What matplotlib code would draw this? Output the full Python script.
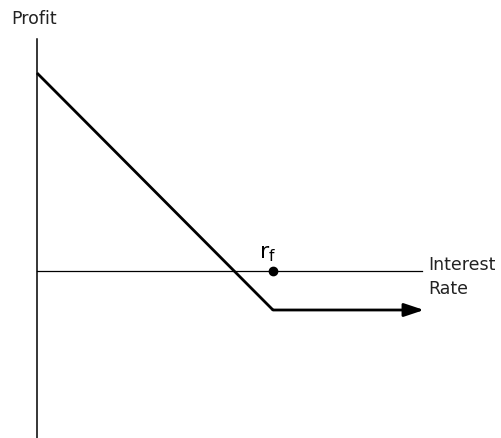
import matplotlib
matplotlib.use('Agg')
from matplotlib import pyplot as plt

# payoff diagram, units in px from the axis origin
profit_x = [0, 236, 387]
profit_y = [198, -39, -39]
rf = 236
xaxis_end = 385
yaxis_top = 232
yaxis_bottom = -167

plt.rcParams['font.family'] = ['DejaVu Sans']

fig = plt.figure(figsize=(5.02, 4.38), dpi=100)
ax = fig.add_axes([0, 0, 1, 1])
ax.set_xlim(-37, 465)
ax.set_ylim(-167, 271)
ax.axis('off')

# axes
ax.plot([0, xaxis_end], [0, 0], color='black', lw=0.9)
ax.plot([0, 0], [yaxis_bottom, yaxis_top], color='black', lw=1.1)

# payoff line with arrow head at the end
ax.plot(profit_x[:2], profit_y[:2], color='black', lw=2, solid_capstyle='butt')
ax.annotate('', xy=(profit_x[2], profit_y[2]), xytext=(profit_x[1], profit_y[1]),
            arrowprops=dict(arrowstyle='-|>,head_length=1.2,head_width=0.4',
                            lw=2, color='black', shrinkA=0, shrinkB=0,
                            mutation_scale=10))

ax.plot([rf], [0], 'o', color='black', ms=6)
ax.text(rf - 5, 13, '$\\mathregular{r_f}$', fontsize=16, ha='center', va='baseline')

ax.text(391, 1, 'Interest', fontsize=12.5, va='baseline', ha='left', color='#222222')
ax.text(391, -23, 'Rate', fontsize=12.5, va='baseline', ha='left', color='#222222')
ax.text(-26, 247, 'Profit', fontsize=12.5, va='baseline', ha='left', color='#222222')

plt.savefig('out.png', dpi=100, facecolor='w')
